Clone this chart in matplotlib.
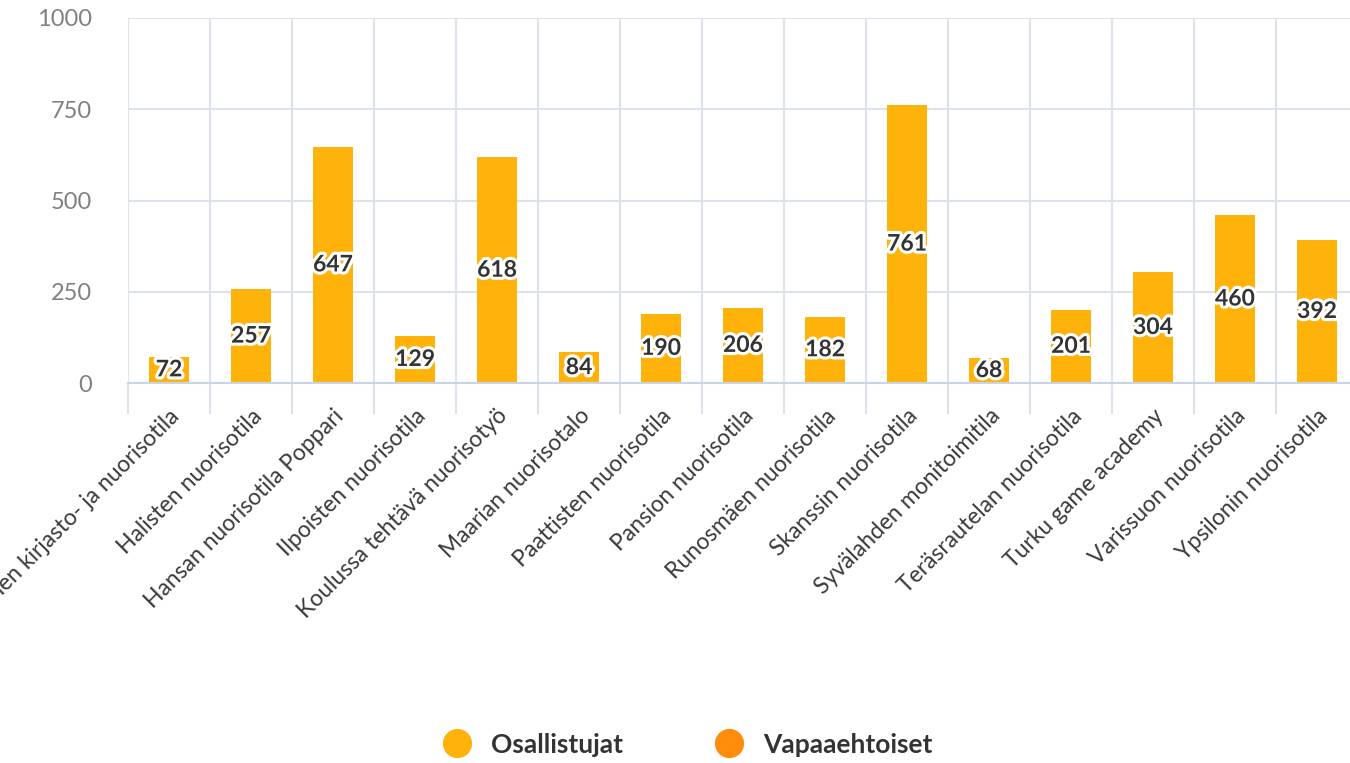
import matplotlib
matplotlib.use("Agg")
import matplotlib.pyplot as plt
import matplotlib.patheffects as pe
from matplotlib.lines import Line2D
import numpy as np

categories = [
    "Nummen kirjasto- ja nuorisotila",
    "Halisten nuorisotila",
    "Hansan nuorisotila Poppari",
    "Ilpoisten nuorisotila",
    "Koulussa tehtävä nuorisotyö",
    "Maarian nuorisotalo",
    "Paattisten nuorisotila",
    "Pansion nuorisotila",
    "Runosmäen nuorisotila",
    "Skanssin nuorisotila",
    "Syvälahden monitoimitila",
    "Teräsrautelan nuorisotila",
    "Turku game academy",
    "Varissuon nuorisotila",
    "Ypsilonin nuorisotila",
]
osallistujat = [72, 257, 647, 129, 618, 84, 190, 206, 182, 761, 68, 201, 304, 460, 392]
series_names = ["Osallistujat", "Vapaaehtoiset"]
y_ticks = [0, 250, 500, 750, 1000]

COL_MAIN = "#FFB20A"
COL_VOL = "#FF8C0A"
GRID = "#dde3ec"

plt.rcParams["font.family"] = ["Lato", "DejaVu Sans"]

fig = plt.figure(figsize=(13.5, 7.63), dpi=100)
ax = fig.add_axes([128 / 1350, 380 / 763, 1230 / 1350, 365 / 763])

x = np.arange(len(categories))
ax.bar(x, osallistujat, width=0.49, color=COL_MAIN, zorder=2)

for xi, v in zip(x, osallistujat):
    ax.text(xi, v / 2, str(v), ha="center", va="center", fontsize=16.5,
            fontweight="bold", color="#333333", zorder=3,
            path_effects=[pe.withStroke(linewidth=4.5, foreground="white")])

ax.set_xlim(-0.5, len(categories) - 0.5)
ax.set_ylim(0, 1000)
ax.set_yticks(y_ticks)
ax.set_yticklabels([str(t) for t in y_ticks], fontsize=17, color="#808080")

# gridlines on category boundaries, labels on centres
ax.set_xticks(x)
ax.set_xticks(np.arange(-0.5, len(categories), 1), minor=True)
ax.set_xticklabels(categories, rotation=45, ha="right", rotation_mode="anchor",
                   fontsize=16.5, color="#3a3a3a")
ax.tick_params(axis="x", which="major", length=0, pad=16)
ax.tick_params(axis="x", which="minor", length=22, color=GRID, width=1.5)
ax.tick_params(axis="y", length=0, pad=26)

ax.grid(True, which="minor", axis="x", color=GRID, linewidth=1.5, zorder=0)
ax.grid(True, which="major", axis="y", color=GRID, linewidth=1.5, zorder=0)
for s in ["top", "right", "left"]:
    ax.spines[s].set_visible(False)
ax.spines["bottom"].set_color("#c9d5e6")
ax.spines["bottom"].set_linewidth(1.5)

handles = [Line2D([], [], marker="o", linestyle="", markersize=20, color=c)
           for c in (COL_MAIN, COL_VOL)]
leg = fig.legend(handles, series_names, loc="center", bbox_to_anchor=(0.505, 0.024),
                 ncol=2, frameon=False, handletextpad=0.3, columnspacing=3.0,
                 prop={"size": 19, "weight": "bold"})
for t in leg.get_texts():
    t.set_color("#333333")

fig.savefig("out.png", dpi=100)
